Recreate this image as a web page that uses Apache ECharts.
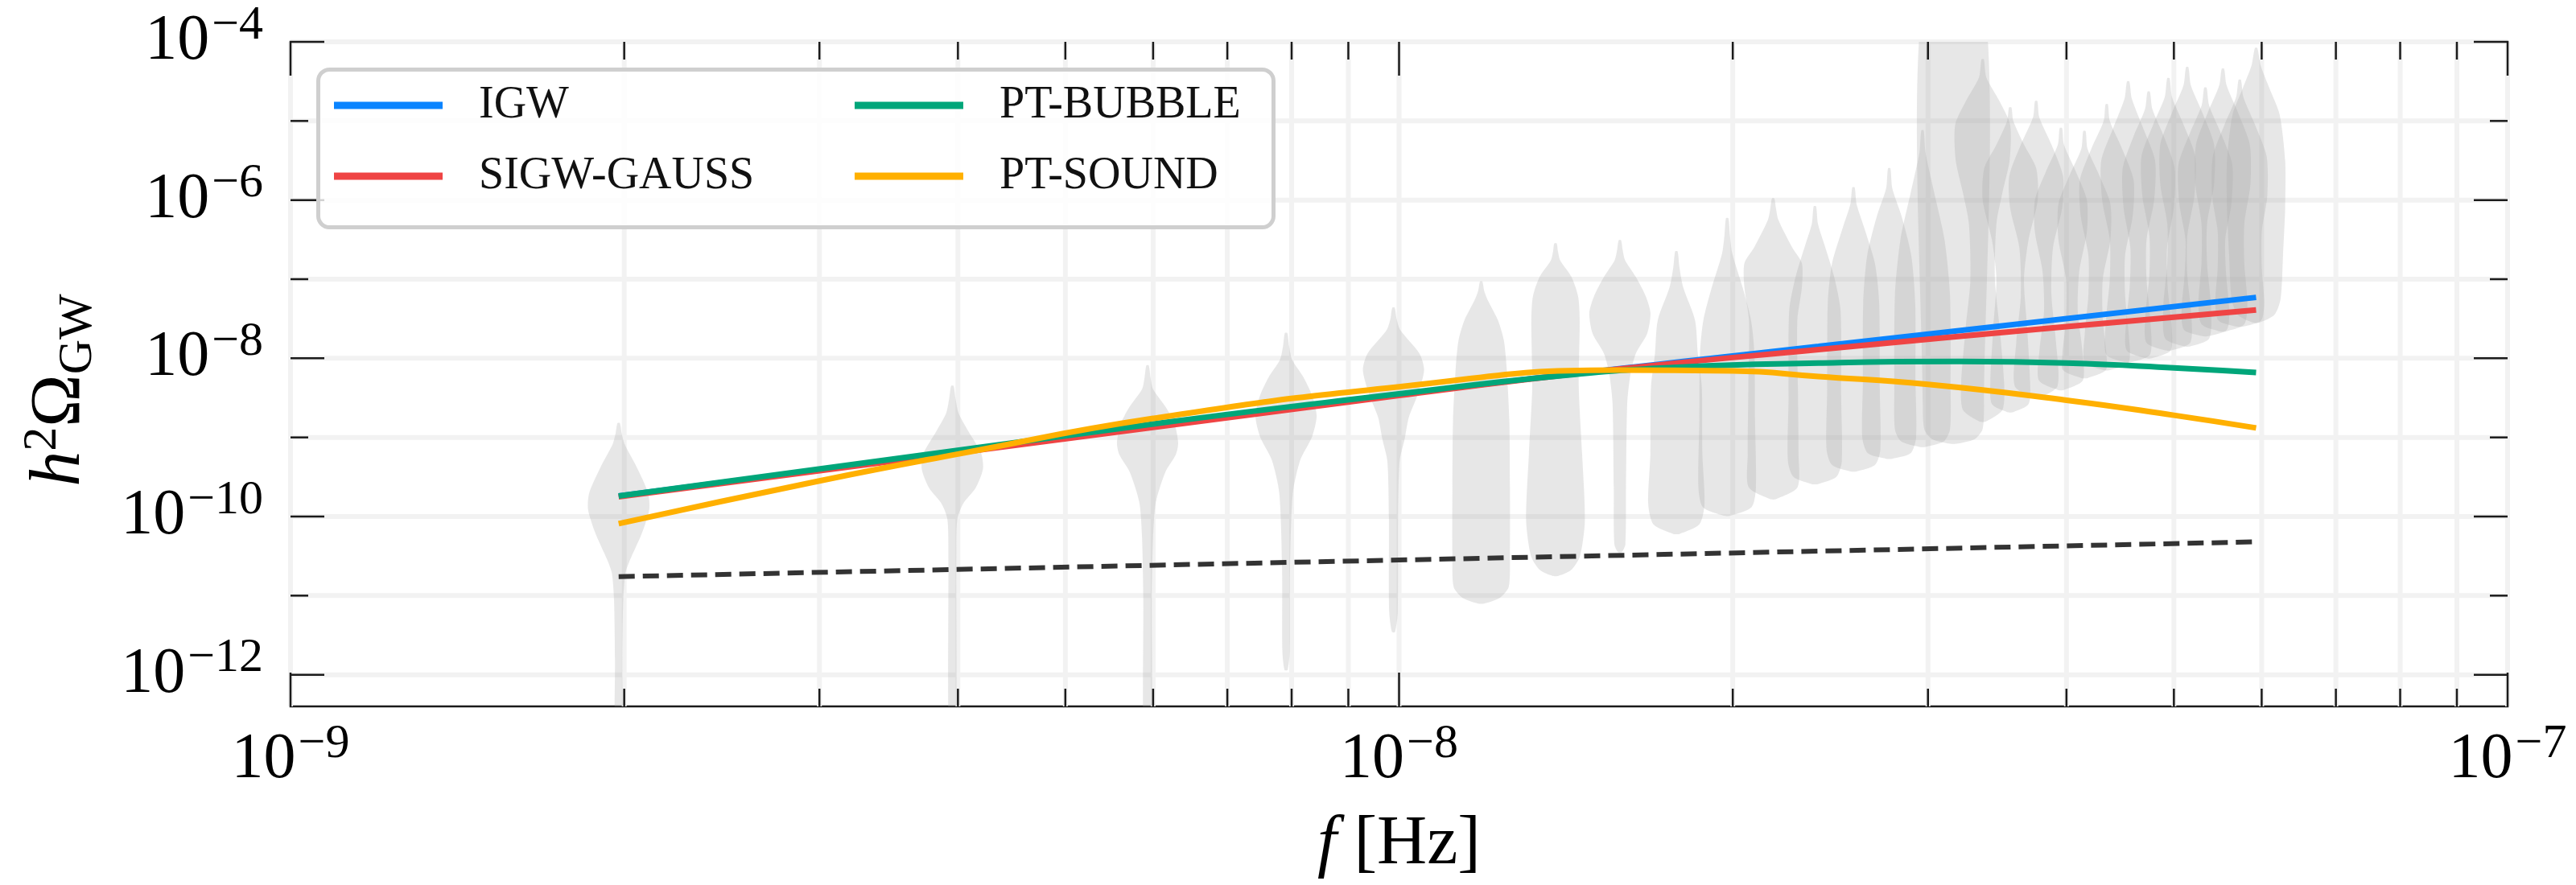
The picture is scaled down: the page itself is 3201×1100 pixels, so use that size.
<!DOCTYPE html>
<html><head><meta charset="utf-8">
<script src="https://cdn.jsdelivr.net/npm/echarts@6/dist/echarts.min.js"></script>
<style>html,body{margin:0;padding:0;background:#fff}#c{width:3201px;height:1100px}</style>
</head><body><div id="c"></div>
<script>
// ---------- data ----------
// PTA frequency bins (n / T)
const violinFreq = [1.977e-9, 3.954e-9, 5.931e-9, 7.908e-9, 9.885e-9, 1.186e-8, 1.384e-8, 1.582e-8, 1.779e-8, 1.977e-8,
  2.175e-8, 2.372e-8, 2.570e-8, 2.768e-8, 2.966e-8, 3.163e-8, 3.361e-8, 3.559e-8, 3.756e-8, 3.954e-8,
  4.152e-8, 4.349e-8, 4.547e-8, 4.745e-8, 4.943e-8, 5.140e-8, 5.338e-8, 5.536e-8, 5.733e-8, 5.931e-8];
// violin profiles: [log10(h2 Omega), relative half width]
const violins = [
  [[-8.82,0.04],[-8.95,0.1],[-9.09,0.2],[-9.36,0.57],[-9.7,0.96],[-9.91,1.0],[-10.21,0.76],[-10.55,0.37],[-10.72,0.22],[-11.06,0.15],[-11.8,0.12],[-13,0.11]],
  [[-8.35,0.04],[-8.5,0.1],[-8.69,0.2],[-8.92,0.52],[-9.2,0.94],[-9.4,1.0],[-9.64,0.76],[-9.84,0.35],[-10.04,0.16],[-10.5,0.13],[-13,0.11]],
  [[-8.09,0.04],[-8.25,0.1],[-8.39,0.18],[-8.62,0.6],[-8.84,0.89],[-9.07,1.0],[-9.22,0.92],[-9.44,0.58],[-9.82,0.27],[-10.27,0.18],[-11,0.14],[-13,0.12]],
  [[-7.68,0.04],[-7.85,0.1],[-8.02,0.2],[-8.24,0.57],[-8.47,0.85],[-8.73,1.0],[-8.99,0.85],[-9.29,0.46],[-9.71,0.22],[-10.65,0.13],[-11.7,0.12],[-11.94,0.05]],
  [[-7.36,0.04],[-7.5,0.1],[-7.64,0.22],[-7.94,0.85],[-8.15,1.0],[-8.45,0.8],[-8.75,0.5],[-9.01,0.37],[-9.3,0.2],[-10,0.15],[-11.2,0.14],[-11.46,0.05]],
  [[-7.03,0.04],[-7.15,0.1],[-7.27,0.22],[-7.52,0.55],[-7.77,0.74],[-8.11,0.83],[-8.78,0.92],[-9.63,0.94],[-10.47,0.94],[-10.89,0.9],[-11.03,0.6],[-11.1,0.1]],
  [[-6.55,0.04],[-6.65,0.08],[-6.76,0.15],[-6.97,0.52],[-7.22,0.74],[-7.52,0.79],[-8.36,0.76],[-9.21,0.87],[-10.05,0.96],[-10.5,0.8],[-10.68,0.5],[-10.75,0.1]],
  [[-6.51,0.04],[-6.63,0.09],[-6.76,0.17],[-6.97,0.52],[-7.22,0.85],[-7.43,1.0],[-7.69,0.89],[-7.94,0.52],[-8.19,0.35],[-8.57,0.24],[-9.63,0.2],[-10.35,0.18],[-10.45,0.06]],
  [[-6.65,0.04],[-6.85,0.1],[-7.1,0.22],[-7.52,0.61],[-7.94,0.7],[-8.36,0.83],[-9.21,0.85],[-9.84,0.92],[-10.1,0.75],[-10.22,0.1]],
  [[-6.23,0.04],[-6.45,0.09],[-6.68,0.17],[-7.1,0.5],[-7.52,0.78],[-7.94,0.89],[-8.78,0.91],[-9.63,0.94],[-9.88,0.8],[-9.99,0.1]],
  [[-5.98,0.04],[-6.1,0.09],[-6.25,0.17],[-6.59,0.61],[-6.8,0.94],[-7.1,0.94],[-7.52,0.79],[-8.36,0.81],[-9.21,0.83],[-9.63,0.8],[-9.78,0.1]],
  [[-6.08,0.04],[-6.3,0.1],[-6.55,0.3],[-6.97,0.63],[-7.4,0.84],[-8.5,0.86],[-9.3,0.88],[-9.5,0.7],[-9.59,0.1]],
  [[-5.84,0.04],[-6.05,0.1],[-6.35,0.35],[-6.8,0.7],[-7.3,0.84],[-8.4,0.86],[-9.15,0.88],[-9.35,0.7],[-9.43,0.1]],
  [[-5.6,0.04],[-5.85,0.1],[-6.2,0.4],[-6.7,0.72],[-7.3,0.85],[-8.3,0.86],[-9.0,0.88],[-9.2,0.7],[-9.27,0.1]],
  [[-5.12,0.04],[-5.4,0.1],[-5.9,0.38],[-6.5,0.72],[-7.2,0.9],[-8.4,0.92],[-8.9,0.9],[-9.05,0.7],[-9.12,0.1]],
  [[-3.5,1.0],[-8.6,1.0],[-8.9,0.95],[-9.02,0.7],[-9.08,0.1]],
  [[-4.22,0.04],[-4.45,0.12],[-4.75,0.55],[-5.05,0.9],[-5.5,0.88],[-5.9,0.65],[-6.3,0.45],[-7.0,0.4],[-7.6,0.55],[-8.3,0.7],[-8.65,0.65],[-8.8,0.1]],
  [[-4.83,0.04],[-5.0,0.1],[-5.3,0.45],[-5.6,0.85],[-6.0,0.9],[-6.5,0.6],[-7.0,0.45],[-7.6,0.55],[-8.3,0.65],[-8.58,0.6],[-8.68,0.1]],
  [[-4.75,0.04],[-4.95,0.1],[-5.3,0.5],[-5.7,0.88],[-6.1,0.85],[-6.6,0.55],[-7.2,0.5],[-7.8,0.65],[-8.35,0.7],[-8.5,0.1]],
  [[-5.09,0.04],[-5.3,0.1],[-5.65,0.5],[-6.0,0.85],[-6.4,0.85],[-6.9,0.6],[-7.4,0.55],[-7.9,0.7],[-8.28,0.72],[-8.4,0.1]],
  [[-5.13,0.04],[-5.35,0.1],[-5.7,0.5],[-6.05,0.85],[-6.5,0.85],[-7.0,0.6],[-7.5,0.6],[-7.95,0.72],[-8.15,0.7],[-8.25,0.1]],
  [[-4.79,0.04],[-5.0,0.1],[-5.35,0.5],[-5.75,0.88],[-6.2,0.85],[-6.7,0.6],[-7.2,0.6],[-7.7,0.72],[-8.05,0.72],[-8.15,0.1]],
  [[-4.5,0.04],[-4.72,0.12],[-5.1,0.5],[-5.5,0.88],[-6.0,0.85],[-6.5,0.6],[-7.0,0.6],[-7.5,0.72],[-7.95,0.72],[-8.05,0.1]],
  [[-4.63,0.04],[-4.85,0.12],[-5.2,0.5],[-5.6,0.85],[-6.1,0.82],[-6.6,0.6],[-7.1,0.62],[-7.6,0.75],[-7.9,0.72],[-8.0,0.1]],
  [[-4.46,0.04],[-4.7,0.12],[-5.05,0.5],[-5.45,0.88],[-5.95,0.85],[-6.45,0.62],[-6.95,0.62],[-7.45,0.75],[-7.8,0.72],[-7.9,0.1]],
  [[-4.32,0.04],[-4.55,0.12],[-4.9,0.5],[-5.3,0.88],[-5.8,0.88],[-6.3,0.65],[-6.8,0.65],[-7.35,0.78],[-7.75,0.72],[-7.85,0.1]],
  [[-4.58,0.04],[-4.8,0.12],[-5.15,0.5],[-5.55,0.88],[-6.05,0.85],[-6.5,0.65],[-6.95,0.68],[-7.4,0.78],[-7.64,0.7],[-7.72,0.1]],
  [[-4.34,0.04],[-4.55,0.12],[-4.9,0.5],[-5.3,0.88],[-5.8,0.9],[-6.3,0.7],[-6.8,0.7],[-7.3,0.8],[-7.57,0.7],[-7.66,0.1]],
  [[-4.48,0.04],[-4.7,0.12],[-5.05,0.5],[-5.45,0.88],[-5.95,0.9],[-6.4,0.72],[-6.85,0.72],[-7.3,0.8],[-7.52,0.7],[-7.6,0.1]],
  [[-4.08,0.04],[-4.3,0.15],[-4.6,0.45],[-4.92,0.77],[-5.5,0.95],[-6.1,0.95],[-6.7,0.88],[-7.25,0.8],[-7.45,0.6],[-7.55,0.1]]
];
// model curves: frequencies and log10(h2 Omega)
const igwFreq    = [1.977e-9, 1.0e-8, 2.39e-8, 5.931e-8];
const igwVals    = [-9.74, -8.46, -7.85, -7.23];
const sigwFreq   = [1.977e-9, 1.0e-8, 1.57e-8, 2.39e-8, 4.0e-8, 5.931e-8];
const sigwVals   = [-9.75, -8.47, -8.14, -7.89, -7.60, -7.39];
const bubbleFreq = [1.977e-9, 6.0e-9, 1.0e-8, 1.4e-8, 1.8e-8, 2.39e-8, 3.2e-8, 4.0e-8, 5.0e-8, 5.931e-8];
const bubbleVals = [-9.74, -8.83, -8.45, -8.22, -8.11, -8.06, -8.04, -8.06, -8.12, -8.18];
const soundFreq  = [1.977e-9, 3.0e-9, 4.0e-9, 6.0e-9, 1.0e-8, 1.57e-8, 2.0e-8, 2.39e-8, 3.0e-8, 4.0e-8, 5.0e-8, 5.931e-8];
const soundVals  = [-10.09, -9.55, -9.21, -8.76, -8.36, -8.15, -8.16, -8.23, -8.33, -8.53, -8.72, -8.88];
const noiseFreq  = [1.977e-9, 1.0e-8, 5.931e-8];
const noiseVals  = [-10.76, -10.55, -10.32];
// axes / ticks
const xMajorTicks = [1e-9, 1e-8, 1e-7];
const xMinorTicks = [2e-9,3e-9,4e-9,5e-9,6e-9,7e-9,8e-9,9e-9,2e-8,3e-8,4e-8,5e-8,6e-8,7e-8,8e-8,9e-8];
const yMajorTicks = [1e-12, 1e-10, 1e-8, 1e-6, 1e-4];
const yMinorTicks = [1e-11, 1e-9, 1e-7, 1e-5];
const yLabelExps  = [-12, -10, -8, -6, -4];
const xLabelExps  = [-9, -8, -7];
const yMinExp = -12.4, yMaxExp = -4;
const seriesNames = ['IGW', 'SIGW-GAUSS', 'PT-BUBBLE', 'PT-SOUND'];

// ---------- chart ----------
const FONT = 'Liberation Serif';
const VW = 0.0276;            // violin max half-width (decades in f)
const chart = echarts.init(document.getElementById('c'));
const pw = v => Math.pow(10, v);

const tickRich = {
  b: { fontSize: 80, lineHeight: 100, fontFamily: FONT, color: '#000' },
  s: { fontSize: 60, lineHeight: 58, verticalAlign: 'top', fontFamily: FONT, color: '#000', padding: [0, 0, 0, 3] }
};
function expLabel(e) { return '{b|10}{s|\u2212' + (-e) + '}'; }

const tickData = [];
xMajorTicks.forEach(v => tickData.push([v, 1e-8, 0, 1]));
xMinorTicks.forEach(v => tickData.push([v, 1e-8, 0, 0]));
yMajorTicks.forEach(v => tickData.push([1e-8, v, 1, 1]));
yMinorTicks.forEach(v => tickData.push([1e-8, v, 1, 0]));

function gridRender(params, api) {
  const cs = params.coordSys;
  if (api.value(2) === 0) {
    const px = api.coord([api.value(0), 1e-8])[0];
    return { type: 'line', shape: { x1: px, y1: cs.y, x2: px, y2: cs.y + cs.height }, style: { stroke: '#f2f2f2', lineWidth: 6 } };
  }
  const py = api.coord([1e-8, api.value(1)])[1];
  return { type: 'line', shape: { x1: cs.x, y1: py, x2: cs.x + cs.width, y2: py }, style: { stroke: '#f2f2f2', lineWidth: 6 } };
}
function tickRender(params, api) {
  const cs = params.coordSys;
  const L = api.value(3) ? 42 : 22;
  const st = { stroke: '#1a1a1a', lineWidth: 2.5 };
  if (api.value(2) === 0) {
    const px = api.coord([api.value(0), 1e-8])[0];
    return { type: 'group', children: [
      { type: 'line', shape: { x1: px, y1: cs.y + cs.height, x2: px, y2: cs.y + cs.height - L }, style: st },
      { type: 'line', shape: { x1: px, y1: cs.y, x2: px, y2: cs.y + L }, style: st }
    ] };
  }
  const py = api.coord([1e-8, api.value(1)])[1];
  return { type: 'group', children: [
    { type: 'line', shape: { x1: cs.x, y1: py, x2: cs.x + L, y2: py }, style: st },
    { type: 'line', shape: { x1: cs.x + cs.width, y1: py, x2: cs.x + cs.width - L, y2: py }, style: st }
  ] };
}
function violinRender(params, api) {
  const i = api.value(2);
  const lf = Math.log10(violinFreq[i]);
  const left = [], right = [];
  violins[i].forEach(k => {
    left.push(api.coord([pw(lf - k[1] * VW), pw(k[0])]));
    right.push(api.coord([pw(lf + k[1] * VW), pw(k[0])]));
  });
  const pts = left.concat(right.reverse());
  return { type: 'polygon', shape: { points: pts, smooth: 0.25 }, style: { fill: 'rgba(168,168,168,0.27)' } };
}

function lineSeries(name, freqs, vals, color) {
  return {
    name, type: 'line', data: freqs.map((f, k) => [f, pw(vals[k])]),
    showSymbol: false, symbol: 'none', smooth: 0.5,
    lineStyle: { color, width: 7 }, itemStyle: { color }, z: 4, silent: true
  };
}

const legendText = { fontSize: 56, lineHeight: 60, fontFamily: FONT, color: '#111',
  rich: { t: { fontSize: 56, lineHeight: 60, fontFamily: FONT, color: '#111', padding: [0, 0, 0, 40] } } };

const option = {
  animation: false,
  backgroundColor: '#ffffff',
  grid: { left: 361, right: 85, top: 52, bottom: 222, show: true, borderColor: '#1a1a1a', borderWidth: 2.5,
          backgroundColor: 'transparent', containLabel: false, outerBoundsMode: 'none' },
  xAxis: {
    type: 'log', logBase: 10, min: 1e-9, max: 1e-7,
    axisLine: { show: false }, axisTick: { show: false }, splitLine: { show: false }, minorTick: { show: false },
    axisLabel: { margin: 17, showMinLabel: true, showMaxLabel: true, rich: tickRich,
      formatter: v => { const l = Math.log10(v), e = Math.round(l); return (Math.abs(l - e) < 1e-3 && xLabelExps.includes(e)) ? expLabel(e) : ''; } },
    name: '{f|f}{n| [Hz]}', nameLocation: 'middle', nameGap: 124,
    nameTextStyle: { rich: {
      f: { fontSize: 86, fontStyle: 'italic', fontFamily: FONT, color: '#000', lineHeight: 96 },
      n: { fontSize: 86, fontFamily: FONT, color: '#000', lineHeight: 96 } } }
  },
  yAxis: {
    type: 'log', logBase: 10, min: pw(yMinExp), max: pw(yMaxExp),
    axisLine: { show: false }, axisTick: { show: false }, splitLine: { show: false }, minorTick: { show: false },
    axisLabel: { margin: 34, showMinLabel: false, showMaxLabel: true, rich: tickRich,
      formatter: v => { const l = Math.log10(v), e = Math.round(l); return (Math.abs(l - e) < 1e-3 && yLabelExps.includes(e)) ? expLabel(e) : ''; } },
    name: '{h|h}{s|2}{o|\u03A9}{g|GW}', nameLocation: 'middle', nameRotate: 90, nameGap: 234,
    nameTextStyle: { padding: [0, 40, 0, 0], rich: {
      h: { fontSize: 88, fontStyle: 'italic', fontFamily: FONT, color: '#000', lineHeight: 104 },
      s: { fontSize: 60, fontFamily: FONT, color: '#000', lineHeight: 58, verticalAlign: 'top' },
      o: { fontSize: 88, fontFamily: FONT, color: '#000', lineHeight: 104 },
      g: { fontSize: 60, fontFamily: FONT, color: '#000', lineHeight: 58, verticalAlign: 'bottom' } } }
  },
  legend: [
    { data: ['IGW', 'SIGW-GAUSS'], orient: 'vertical', left: 415, top: 101, itemWidth: 135, itemHeight: 9, itemGap: 28,
      icon: 'rect', selectedMode: false, padding: 0, z: 20, formatter: '{t|{name}}', textStyle: legendText },
    { data: ['PT-BUBBLE', 'PT-SOUND'], orient: 'vertical', left: 1062, top: 101, itemWidth: 135, itemHeight: 9, itemGap: 28,
      icon: 'rect', selectedMode: false, padding: 0, z: 20, formatter: '{t|{name}}', textStyle: legendText }
  ],
  graphic: [
    { type: 'rect', left: 393, top: 84, z: 15, shape: { width: 1187, height: 196, r: 14 },
      style: { fill: 'rgba(255,255,255,0.8)', stroke: '#cfcfcf', lineWidth: 5 } }
  ],
  series: [
    { type: 'custom', name: 'grid', renderItem: gridRender, data: tickData, z: 0, silent: true, clip: false },
    { type: 'custom', name: 'violins', renderItem: violinRender, data: violinFreq.map((f, i) => [f, 1e-8, i]), z: 1, silent: true, clip: true },
    { type: 'line', name: 'noise', data: noiseFreq.map((f, k) => [f, pw(noiseVals[k])]), showSymbol: false, symbol: 'none',
      lineStyle: { color: '#333333', width: 6, type: [20, 10] }, z: 3, silent: true },
    lineSeries(seriesNames[0], igwFreq, igwVals, '#0a84ff'),
    lineSeries(seriesNames[1], sigwFreq, sigwVals, '#ef4444'),
    lineSeries(seriesNames[2], bubbleFreq, bubbleVals, '#00a67a'),
    lineSeries(seriesNames[3], soundFreq, soundVals, '#ffb000'),
    { type: 'custom', name: 'ticks', renderItem: tickRender, data: tickData, z: 10, silent: true, clip: false }
  ]
};
chart.setOption(option);
</script>
</body></html>
